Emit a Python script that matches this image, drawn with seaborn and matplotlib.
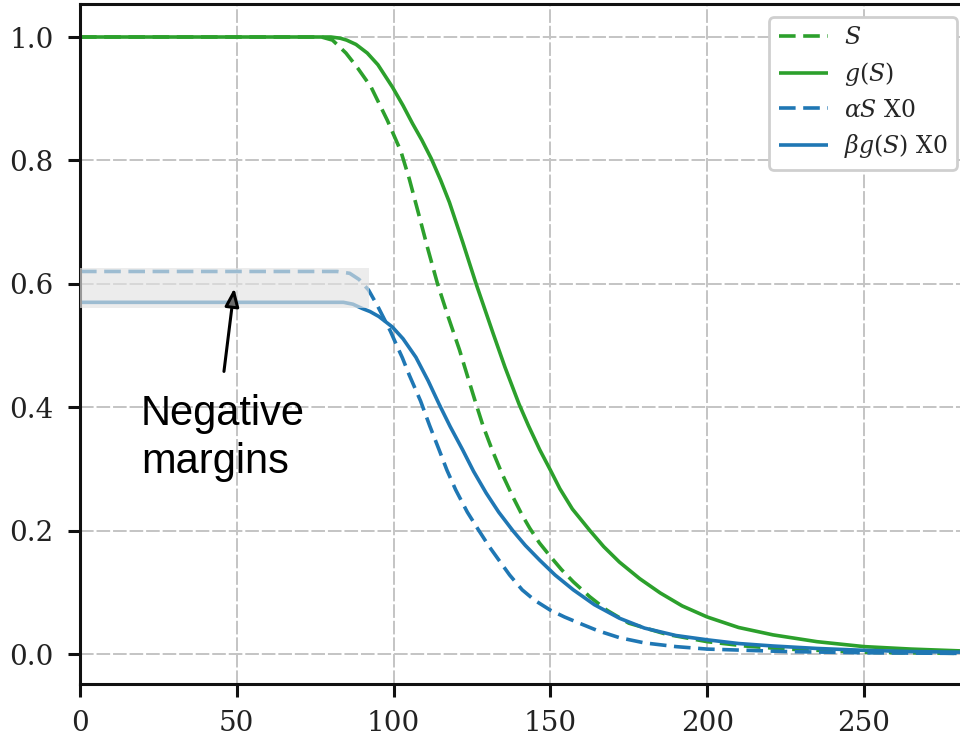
import numpy as np
import pandas as pd
import matplotlib
matplotlib.use("Agg")
import matplotlib.pyplot as plt
import seaborn as sns

# ---- data ----
x_S = [0, 40, 77, 80.5, 84.8, 88.5, 92.8, 98, 102.3, 105, 108.2, 111, 114, 117.5, 121, 124, 126.3,
       128.5, 131.4, 134.5, 138, 141, 143.4, 146.5, 150, 153.5, 157.3, 162.5, 168, 175, 187, 200,
       212, 225, 250, 281]
y_S = [1.0, 1.0, 1.0, 0.995, 0.974, 0.95, 0.919, 0.865, 0.815, 0.77, 0.709, 0.655, 0.6, 0.545, 0.493,
       0.443, 0.405, 0.37, 0.331, 0.293, 0.255, 0.225, 0.204, 0.18, 0.158, 0.137, 0.117, 0.093,
       0.071, 0.05, 0.032, 0.02, 0.013, 0.008, 0.003, 0.001]

x_g = [0, 40, 80, 83, 85, 88, 91.6, 95, 99.6, 103, 106, 109, 112, 115, 117.8, 122, 126.3, 131.7,
       135.5, 140, 143, 146.6, 150, 153, 157, 162.6, 167, 172, 178.5, 185, 192, 200, 210, 221, 235,
       250, 265, 281]
y_g = [1.0, 1.0, 1.0, 0.998, 0.995, 0.988, 0.974, 0.955, 0.919, 0.889, 0.86, 0.833, 0.803, 0.768,
       0.732, 0.668, 0.6, 0.52, 0.465, 0.405, 0.37, 0.331, 0.298, 0.268, 0.235, 0.2, 0.174, 0.149,
       0.122, 0.099, 0.078, 0.06, 0.043, 0.031, 0.02, 0.012, 0.008, 0.005]

x_aS = [0, 40, 82, 86, 89, 92, 95, 97, 99, 101, 102.8, 105, 108.6, 111.5, 114.5, 117, 119.8, 123.5,
        127.2, 130.5, 133.6, 137, 141, 145, 150, 154.5, 159.2, 165, 172, 180, 190, 200, 225, 250, 281]
y_aS = [0.62, 0.62, 0.62, 0.617, 0.607, 0.59, 0.563, 0.543, 0.523, 0.5, 0.48, 0.452, 0.41, 0.37,
        0.331, 0.298, 0.266, 0.23, 0.2, 0.174, 0.152, 0.128, 0.104, 0.087, 0.071, 0.06, 0.05, 0.038,
        0.0265, 0.018, 0.012, 0.008, 0.004, 0.002, 0.001]

x_bg = [0, 40, 84, 87, 90, 92.5, 95.3, 99.6, 103, 107.1, 111, 114.5, 118, 122, 125.5, 129.5, 133.5,
        138, 142, 146.6, 151.5, 157.3, 164, 172, 180, 190, 200, 210, 221, 235, 250, 265, 281]
y_bg = [0.57, 0.57, 0.57, 0.567, 0.56, 0.555, 0.547, 0.53, 0.511, 0.481, 0.443, 0.405, 0.369, 0.331,
        0.296, 0.261, 0.23, 0.2, 0.176, 0.152, 0.128, 0.104, 0.08, 0.058, 0.042, 0.03, 0.023, 0.017,
        0.013, 0.009, 0.006, 0.004, 0.003]

labels = [r"$S$", r"$g(S)$", r"$\alpha S$ X0", r"$\beta g(S)$ X0"]
x_ticks = [0, 50, 100, 150, 200, 250]
y_ticks = [0.0, 0.2, 0.4, 0.6, 0.8, 1.0]
margin_x = [0, 92]
margin_lo = 0.561
margin_hi = 0.626

GREEN = "#2ca02c"
BLUE = "#1f77b4"

sns.set_theme(style="ticks")
plt.rcParams["font.family"] = ["DejaVu Serif", "DejaVu Sans"]
plt.rcParams["mathtext.fontset"] = "dejavuserif"

fig = plt.figure(figsize=(9.6, 7.36), dpi=100)
ax = fig.add_axes([80 / 960, 52 / 736, 880 / 960, 680 / 736])

LW = 2.6
dash = (0, (4.6, 2.1))
series = [
    (x_S, y_S, GREEN, dash, labels[0]),
    (x_g, y_g, GREEN, "-", labels[1]),
    (x_aS, y_aS, BLUE, dash, labels[2]),
    (x_bg, y_bg, BLUE, "-", labels[3]),
]
for xs, ys, c, ls, lab in series:
    df = pd.DataFrame({"x": xs, "y": ys})
    sns.lineplot(data=df, x="x", y="y", ax=ax, color=c, linewidth=LW,
                 linestyle=ls, label=lab, errorbar=None, zorder=2)
for ln in ax.get_lines():
    ln.set_linewidth(LW)
    ln.set_solid_capstyle("butt")
    ln.set_dash_capstyle("butt")
    ln.set_solid_joinstyle("round")

# shaded "negative margins" band
ax.fill_between(margin_x, [margin_lo] * 2, [margin_hi] * 2, color="#e2e2e2",
                alpha=0.65, lw=0, zorder=3)

ax.set_xlim(0, 280.6)
ax.set_ylim(-0.0486, 1.0535)
ax.set_xticks(x_ticks)
ax.set_yticks(y_ticks)
ax.set_xticklabels([str(t) for t in x_ticks])
ax.set_yticklabels([f"{t:.1f}" for t in y_ticks])
ax.set_xlabel("")
ax.set_ylabel("")
ax.tick_params(axis="both", labelsize=20, length=9, width=2.2, color="#111111",
               labelcolor="#222222", pad=10, direction="out")
for sp in ["left", "bottom", "top"]:
    ax.spines[sp].set_linewidth(2.2)
    ax.spines[sp].set_color("#111111")
ax.spines["right"].set_visible(False)
ax.grid(True, color="#c4c4c4", linewidth=1.4, linestyle=(0, (7, 1.5)), zorder=0)
ax.set_axisbelow(True)

leg = ax.legend(loc="upper right", fontsize=17, handlelength=2.1, handletextpad=0.65,
                labelspacing=0.45, frameon=True, fancybox=True, edgecolor="#cfcfcf",
                framealpha=1.0, borderpad=0.4, borderaxespad=0,
                bbox_to_anchor=(0.9966, 0.981))
leg.get_frame().set_linewidth(2.0)

# annotation
ax.annotate("", xy=(49.2, 0.593), xytext=(45.9, 0.458),
            arrowprops=dict(arrowstyle="-|>,head_length=0.9,head_width=0.35",
                            fc="#6a6a6a", ec="black", lw=2.2, shrinkA=0, shrinkB=0),
            zorder=5)
ax.text(19.4, 0.371, "Negative", fontsize=30, family=["Liberation Sans", "DejaVu Sans"],
        ha="left", va="baseline", color="black", zorder=5)
ax.text(19.4, 0.293, "margins", fontsize=30, family=["Liberation Sans", "DejaVu Sans"],
        ha="left", va="baseline", color="black", zorder=5)

fig.savefig("out.png", dpi=100)
